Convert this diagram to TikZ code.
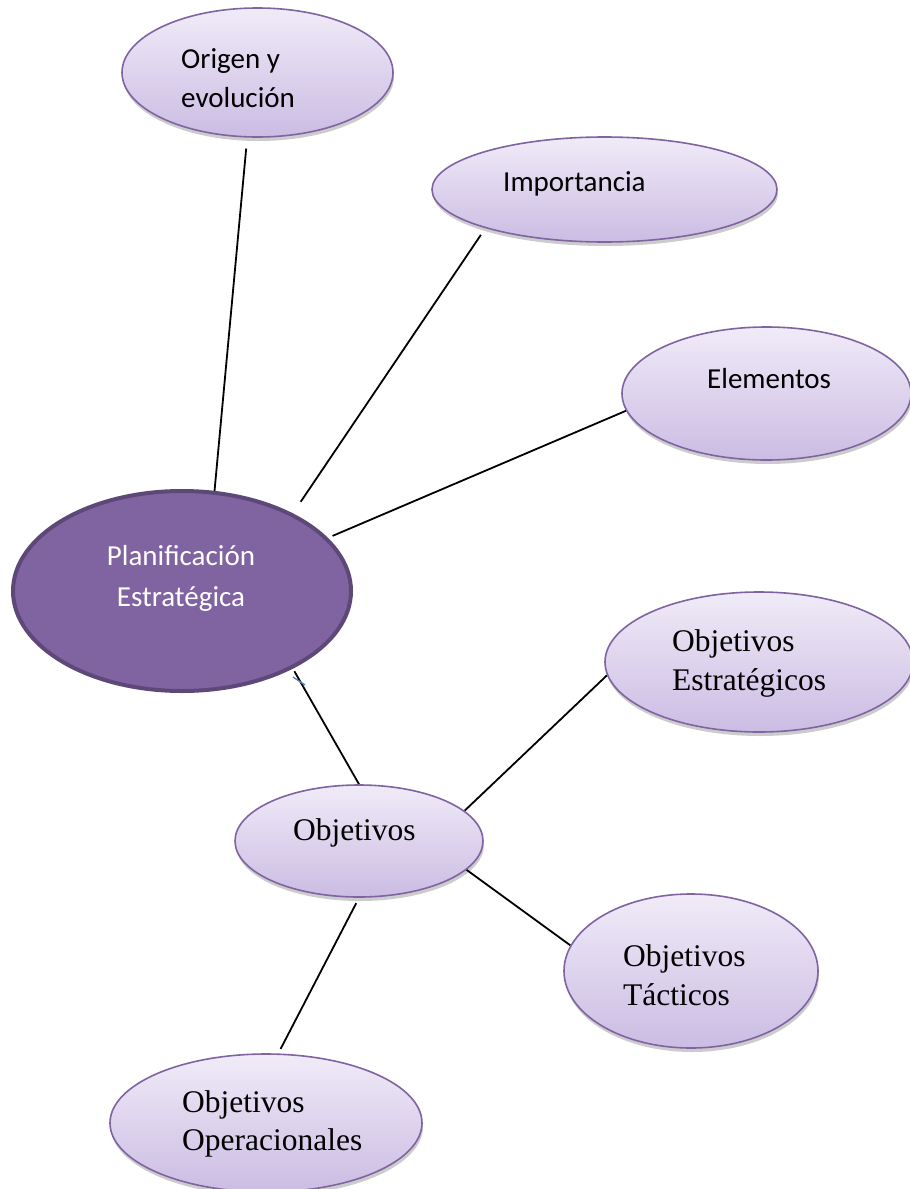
\documentclass[tikz,border=0pt]{standalone}
\usepackage{fontspec}
\setmainfont{Carlito}
\newfontfamily\tnr{Liberation Serif}
\usetikzlibrary{shapes.geometric,shadows}
\definecolor{lavtop}{RGB}{240,235,248}
\definecolor{lavbot}{RGB}{203,188,227}
\definecolor{lavedge}{RGB}{128,100,162}
\definecolor{planfill}{RGB}{128,100,162}
\definecolor{planedge}{RGB}{93,72,120}
\definecolor{tickblue}{RGB}{79,129,189}
\pgfdeclarelayer{bg}
\pgfsetlayers{bg,main}
\tikzset{
  bubble/.style={ellipse, draw=lavedge, line width=1.6pt, top color=lavtop, bottom color=lavbot, inner sep=0pt,
    drop shadow={shadow xshift=1pt, shadow yshift=-4pt, opacity=0.2, fill=black}},
  core/.style={ellipse, draw=planedge, line width=4pt, fill=planfill, inner sep=0pt},
  cal/.style={inner sep=0pt, anchor=base west, font=\fontsize{29}{35}\selectfont},
  tim/.style={inner sep=0pt, anchor=base west, font=\tnr\fontsize{31.5}{38}\selectfont},
  link/.style={line width=1.8pt, black},
}
\begin{document}
\begin{tikzpicture}[x=1pt,y=-1pt]
\begin{pgfonlayer}{bg}
  \fill[white] (0,0) rectangle (910,1189);
\end{pgfonlayer}
\useasboundingbox (0,0) rectangle (910,1189);

% ellipses
\node[bubble, minimum width=271pt, minimum height=129pt] (orig) at (257.5,72.5) {};
\node[bubble, minimum width=345pt, minimum height=105pt] (imp) at (604.5,189.5) {};
\node[bubble, minimum width=289pt, minimum height=133pt] (elem) at (766.5,393.5) {};
\node[core, minimum width=338pt, minimum height=200pt] (plan) at (182,591) {};
\node[bubble, minimum width=308pt, minimum height=140pt] (est) at (759,662) {};
\node[bubble, minimum width=248pt, minimum height=112pt] (obj) at (359,841) {};
\node[bubble, minimum width=254pt, minimum height=154pt] (tact) at (691,971) {};
\node[bubble, minimum width=312pt, minimum height=138pt] (oper) at (266,1123) {};

% texts
\node[cal] (torig1) at (181,68) {Origen y};
\node[cal] (torig2) at (181,107) {evolución};
\node[cal] (timp) at (503,191) {Importancia};
\node[cal] (telem) at (707,388) {Elementos};
\node[cal, anchor=base, text=white] (tplan1) at (181,565) {Planificación};
\node[cal, anchor=base, text=white] (tplan2) at (181,606) {Estratégica};
\node[tim] (test1) at (672,651) {Objetivos};
\node[tim] (test2) at (672,690) {Estratégicos};
\node[tim] (tobj) at (293,840) {Objetivos};
\node[tim] (ttact1) at (623,966) {Objetivos};
\node[tim] (ttact2) at (623,1005) {Tácticos};
\node[tim] (toper1) at (182,1112) {Objetivos};
\node[tim] (toper2) at (182,1150) {Operacionales};

% connectors
\begin{pgfonlayer}{bg}
  \draw[link, shorten <=11pt] (orig.-99.4) -- (plan.72.9);
  \draw[link, shorten <=8pt, shorten >=14pt] (imp.-162.25) -- (plan.35.2);
  \draw[link, shorten >=5pt] (elem.-173.8) -- (plan.20.6);
  \draw[link, shorten <=3pt] (plan.-35.6) -- (obj.90);
  \draw[link] (obj.16) -- (est.-175.75);
  \draw[link] (obj.-15.5) -- (tact.168.5);
  \draw[link, shorten <=6pt, shorten >=5pt] (obj.-90) -- (oper.80.8);
\end{pgfonlayer}

% small blue stroke
\draw[tickblue, line width=1.3pt] (293,677) -- (305,685);
\end{tikzpicture}
\end{document}
